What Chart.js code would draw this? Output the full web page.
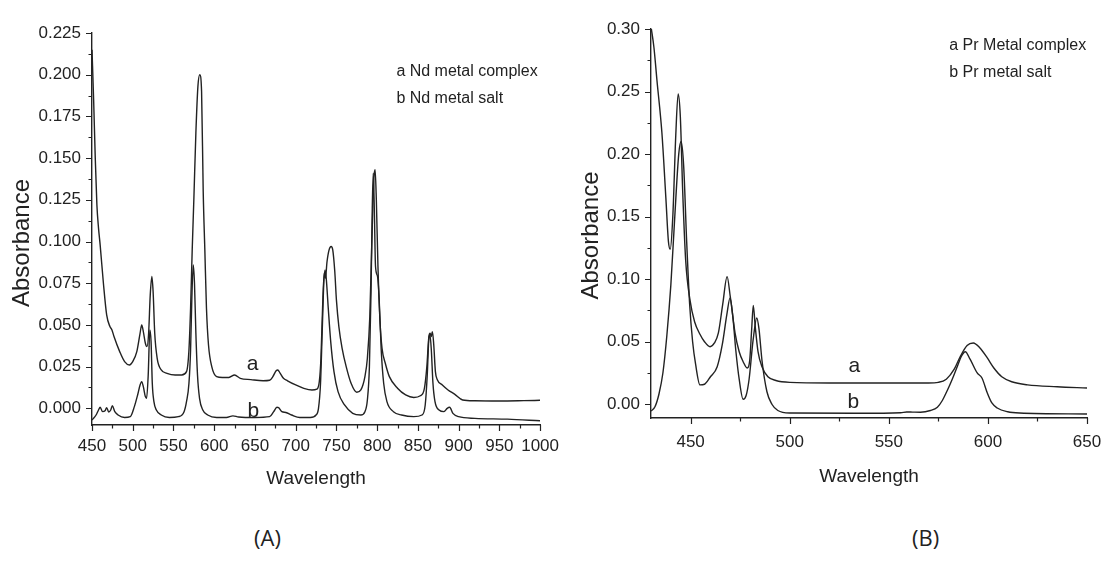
<!DOCTYPE html>
<html>
<head>
<meta charset="utf-8">
<script src="https://cdn.jsdelivr.net/npm/chart.js@4"></script>
<style>
  body { margin: 0; background: #fff; width: 1104px; height: 567px; position: relative; overflow: hidden; }
  canvas { position: absolute; top: 0; }
  #chartA { left: 0; }
  #chartB { left: 560px; }
  .cap { position: absolute; top: 522px; font: 22px 'Open Sans', sans-serif; color: #222; }
</style>
</head>
<body>
<canvas id="chartA" width="570" height="500"></canvas>
<canvas id="chartB" width="580" height="500"></canvas>
<div class="cap" style="left:254px">(A)</div>
<div class="cap" style="left:912px">(B)</div>
<script>
// (A) Nd spectra
const ndWaveA = [450, 452, 454, 456, 458, 460, 464, 468, 472, 474.5, 477, 484, 490, 496, 500, 505, 509, 511, 513, 515.5, 517.5, 519.5, 521.5, 523.5, 525, 527, 530, 535, 542, 552, 560, 566, 569, 571, 573, 575, 577.5, 580, 582.3, 584.5, 586.5, 588.5, 590.5, 593, 597, 603, 610, 618, 625, 632, 645, 660, 668, 672, 676, 678, 681, 685, 690, 700, 710, 720, 726, 729, 731, 733, 735, 736.5, 738.5, 741, 743.5, 745.5, 748, 750, 753, 757, 762, 768, 775, 780, 785, 788, 791, 793.5, 796, 797.5, 799, 801, 803.5, 806, 810, 815, 825, 835, 845, 853, 858, 861, 863.5, 865, 866.3, 867.8, 869.5, 871.5, 874, 880, 887, 895, 905, 920, 950, 980, 1000];
const ndAbsA = [0.215, 0.185, 0.150, 0.122, 0.108, 0.098, 0.075, 0.056, 0.049, 0.047, 0.043, 0.034, 0.028, 0.026, 0.028, 0.034, 0.045, 0.050, 0.046, 0.039, 0.037, 0.045, 0.068, 0.079, 0.070, 0.045, 0.030, 0.023, 0.021, 0.020, 0.020, 0.022, 0.035, 0.060, 0.095, 0.125, 0.165, 0.193, 0.200, 0.190, 0.130, 0.095, 0.060, 0.038, 0.025, 0.019, 0.0185, 0.0185, 0.020, 0.018, 0.0172, 0.0165, 0.0168, 0.019, 0.0225, 0.023, 0.021, 0.018, 0.0165, 0.014, 0.012, 0.011, 0.0115, 0.016, 0.030, 0.060, 0.081, 0.078, 0.088, 0.095, 0.097, 0.095, 0.082, 0.065, 0.049, 0.036, 0.025, 0.015, 0.0096, 0.011, 0.019, 0.030, 0.055, 0.100, 0.138, 0.143, 0.125, 0.085, 0.052, 0.036, 0.027, 0.019, 0.012, 0.008, 0.0065, 0.0075, 0.012, 0.025, 0.043, 0.045, 0.043, 0.046, 0.038, 0.022, 0.017, 0.014, 0.011, 0.0085, 0.005, 0.0045, 0.0044, 0.0046, 0.0048];
const ndWaveB = [450, 455, 458, 460, 463, 466, 468, 470.5, 473, 475, 478, 482, 490, 497, 502, 506, 509, 511, 513, 515.5, 517, 519, 521, 522.5, 524, 526, 529, 535, 545, 556, 563, 566, 569, 571, 572.5, 574.3, 575.8, 577.5, 579.5, 582, 586, 592, 603, 615, 623, 630, 650, 668, 673, 677, 679, 683, 688, 695, 705, 718, 725, 728, 730.5, 732.5, 734.5, 736, 737.5, 740, 743, 747, 752, 760, 770, 780, 785, 788, 790.5, 792.5, 794, 795.2, 796.5, 798, 800.5, 802.5, 805, 808, 812, 820, 830, 845, 855, 859, 861.5, 863.5, 864.8, 866.5, 868.5, 871, 876, 882, 886, 889, 893, 900, 920, 960, 1000];
const ndAbsB = [-0.007, -0.004, -0.001, 0.0006, -0.002, -0.0015, 0.0004, -0.0022, -0.001, 0.0015, -0.002, -0.004, -0.0055, -0.005, 0.001, 0.008, 0.014, 0.016, 0.013, 0.007, 0.006, 0.020, 0.047, 0.040, 0.015, 0.004, -0.001, -0.004, -0.0055, -0.005, -0.002, 0.004, 0.015, 0.035, 0.065, 0.086, 0.075, 0.045, 0.020, 0.006, -0.001, -0.004, -0.0055, -0.0055, -0.0045, -0.0052, -0.0055, -0.005, -0.002, 0.0006, 0.0004, -0.002, -0.0025, -0.004, -0.0055, -0.0055, -0.004, 0.0, 0.015, 0.045, 0.075, 0.083, 0.078, 0.060, 0.040, 0.022, 0.010, 0.002, -0.003, -0.004, -0.002, 0.005, 0.025, 0.070, 0.120, 0.141, 0.120, 0.085, 0.079, 0.065, 0.035, 0.015, 0.004, -0.002, -0.004, -0.005, -0.004, 0.002, 0.020, 0.042, 0.044, 0.035, 0.015, 0.004, -0.001, -0.002, 0.0, 0.0006, -0.003, -0.005, -0.006, -0.0065, -0.0075];
const ndWaveTicks = [450, 500, 550, 600, 650, 700, 750, 800, 850, 900, 950, 1000];
const ndAbsTicks = [0, 0.025, 0.05, 0.075, 0.1, 0.125, 0.15, 0.175, 0.2, 0.225];

// (B) Pr spectra
const prWaveA = [430, 431.5, 433, 435.5, 437.5, 438.8, 439.7, 441, 442.5, 443.7, 444.8, 446, 447.5, 449.7, 452, 454.7, 457, 459.8, 462, 464, 466.2, 468.4, 470, 472.4, 474.5, 476.5, 478.5, 479.8, 480.8, 481.6, 482.6, 484, 486, 489, 493, 500, 520, 550, 570, 575, 579, 583, 586, 589.5, 592.6, 596, 599.7, 603, 607, 612, 620, 635, 650];
const prAbsA = [0.302, 0.285, 0.259, 0.217, 0.165, 0.130, 0.124, 0.150, 0.215, 0.248, 0.230, 0.170, 0.115, 0.083, 0.066, 0.056, 0.050, 0.046, 0.049, 0.057, 0.080, 0.102, 0.086, 0.057, 0.042, 0.034, 0.029, 0.035, 0.060, 0.079, 0.062, 0.042, 0.030, 0.022, 0.019, 0.0175, 0.017, 0.017, 0.017, 0.0175, 0.020, 0.028, 0.038, 0.047, 0.049, 0.045, 0.037, 0.029, 0.022, 0.018, 0.0155, 0.014, 0.013];
const prWaveB = [430, 432, 434, 436, 438, 440, 442, 444, 445.2, 446.5, 448, 449.5, 451, 452.5, 454.7, 457, 460, 463.4, 466, 468.3, 469.9, 471.3, 472.8, 474.5, 476.5, 478, 479.5, 481.5, 483.4, 484.5, 486, 488.5, 491, 494, 500, 535, 556, 559, 562, 566, 571, 574.5, 577, 579.5, 582, 584.5, 586.5, 588.6, 591, 594.6, 597, 599.7, 602, 604.7, 610, 616, 650];
const prAbsB = [-0.0055, -0.002, 0.008, 0.025, 0.055, 0.095, 0.150, 0.200, 0.210, 0.190, 0.130, 0.080, 0.050, 0.032, 0.0155, 0.016, 0.022, 0.030, 0.048, 0.072, 0.085, 0.070, 0.043, 0.020, 0.004, 0.007, 0.020, 0.051, 0.069, 0.060, 0.035, 0.010, 0.0, -0.005, -0.007, -0.0072, -0.0068, -0.0062, -0.0063, -0.0064, -0.005, -0.0024, 0.003, 0.011, 0.020, 0.030, 0.038, 0.042, 0.036, 0.025, 0.021, 0.009, 0.001, -0.003, -0.006, -0.007, -0.0078];
const prWaveTicks = [450, 500, 550, 600, 650];
const prAbsTicks = [0, 0.05, 0.1, 0.15, 0.2, 0.25, 0.3];

const ink = '#222';
const family = "'Liberation Sans', Arial, sans-serif";
const tickFont = { family, size: 17 };

const pts = (xs, ys) => xs.map((x, i) => ({ x, y: ys[i] }));

// majors plus the midpoints between them (minor ticks)
function withMinors(majors) {
  const out = [];
  majors.forEach((v, i) => {
    out.push({ value: v, major: true });
    if (i < majors.length - 1) out.push({ value: (v + majors[i + 1]) / 2, major: false });
  });
  return out;
}

const textLabels = {
  id: 'textLabels',
  afterDatasetsDraw(chart, args, opts) {
    const { ctx, scales: { x, y } } = chart;
    ctx.save();
    ctx.fillStyle = ink;
    ctx.textBaseline = 'alphabetic';
    for (const t of opts.items) {
      ctx.font = t.size + 'px ' + family;
      ctx.fillText(t.text, x.getPixelForValue(t.x), y.getPixelForValue(t.y));
    }
    ctx.restore();
  }
};

// outward tick marks (long majors, short minors) and the rotated y title
const axisDecor = {
  id: 'axisDecor',
  afterDraw(chart, args, opts) {
    const { ctx, chartArea: area, scales: { x, y } } = chart;
    ctx.save();
    ctx.strokeStyle = ink;
    ctx.lineWidth = 1.2;
    ctx.beginPath();
    x.ticks.forEach(t => {
      const px = Math.round(x.getPixelForValue(t.value)) + 0.5;
      ctx.moveTo(px, area.bottom);
      ctx.lineTo(px, area.bottom + (t.major ? 6 : 3.5));
    });
    y.ticks.forEach(t => {
      const py = Math.round(y.getPixelForValue(t.value)) + 0.5;
      ctx.moveTo(area.left, py);
      ctx.lineTo(area.left - (t.major ? 6 : 3.5), py);
    });
    ctx.stroke();
    ctx.translate(opts.titleX, (area.top + area.bottom) / 2 + opts.titleShift);
    ctx.rotate(-Math.PI / 2);
    ctx.fillStyle = ink;
    ctx.font = '24px ' + family;
    ctx.textAlign = 'center';
    ctx.textBaseline = 'middle';
    ctx.fillText('Absorbance', 0, 0);
    ctx.restore();
  }
};

function makeChart(id, cfg) {
  const line = (data) => ({
    data, borderColor: ink, borderWidth: 1.4, pointRadius: 0,
    cubicInterpolationMode: 'monotone', fill: false
  });
  return new Chart(document.getElementById(id), {
    type: 'line',
    data: { datasets: [line(cfg.a), line(cfg.b)] },
    plugins: [textLabels, axisDecor],
    options: {
      responsive: false,
      animation: false,
      events: [],
      layout: { padding: cfg.padding },
      plugins: {
        legend: { display: false }, tooltip: { enabled: false },
        textLabels: { items: cfg.labels },
        axisDecor: { titleX: cfg.yTitleX, titleShift: cfg.yTitleShift }
      },
      scales: {
        x: {
          type: 'linear', min: cfg.xMin, max: cfg.xMax,
          afterFit: s => { s.height = cfg.xHeight; },
          afterBuildTicks: s => { s.ticks = withMinors(cfg.xTicks); },
          border: { color: ink, width: 1.4 },
          grid: { drawOnChartArea: false, drawTicks: false },
          ticks: {
            autoSkip: false, maxRotation: 0, color: ink, font: tickFont, padding: cfg.xPad,
            callback: (v, i, ticks) => (ticks[i].major ? String(v) : '')
          },
          title: { display: true, text: 'Wavelength', color: ink, font: { family, size: 19 }, padding: { bottom: cfg.xTitlePad } }
        },
        y: {
          min: cfg.yMin, max: cfg.yMax,
          afterFit: s => { s.width = cfg.yWidth; },
          afterBuildTicks: s => { s.ticks = withMinors(cfg.yTicks); },
          border: { color: ink, width: 1.4 },
          grid: { drawOnChartArea: false, drawTicks: false },
          ticks: {
            autoSkip: false, color: ink, font: tickFont, padding: 11,
            callback: (v, i, ticks) => (ticks[i].major ? v.toFixed(cfg.yDigits) : '')
          },
          title: { display: false }
        }
      }
    }
  });
}

makeChart('chartA', {
  a: pts(ndWaveA, ndAbsA), b: pts(ndWaveB, ndAbsB),
  xTicks: ndWaveTicks, yTicks: ndAbsTicks,
  xMin: 450, xMax: 1000, xPad: 11, xHeight: 75, xTitlePad: 10,
  yMin: -0.01, yMax: 0.225, yDigits: 3, yWidth: 92,
  yTitleX: 22, yTitleShift: 14,
  padding: { left: 0, top: 33, right: 29, bottom: 0 },
  labels: [
    { text: 'a Nd metal complex', x: 823.6, y: 0.199, size: 16 },
    { text: 'b Nd metal salt', x: 823.6, y: 0.183, size: 16 },
    { text: 'a', x: 640, y: 0.0228, size: 21 },
    { text: 'b', x: 641, y: -0.0052, size: 21 }
  ]
});

makeChart('chartB', {
  a: pts(prWaveA, prAbsA), b: pts(prWaveB, prAbsB),
  xTicks: prWaveTicks, yTicks: prAbsTicks,
  xMin: 430, xMax: 650, xPad: 14, xHeight: 82, xTitlePad: 12,
  yMin: -0.011, yMax: 0.30, yDigits: 2, yWidth: 91,
  yTitleX: 31, yTitleShift: 12,
  padding: { left: 0, top: 29, right: 53, bottom: 0 },
  labels: [
    { text: 'a Pr Metal complex', x: 580.5, y: 0.2832, size: 16 },
    { text: 'b Pr metal salt', x: 580.5, y: 0.2616, size: 16 },
    { text: 'a', x: 529.6, y: 0.0256, size: 21 },
    { text: 'b', x: 529.1, y: -0.0032, size: 21 }
  ]
});
</script>
</body>
</html>
